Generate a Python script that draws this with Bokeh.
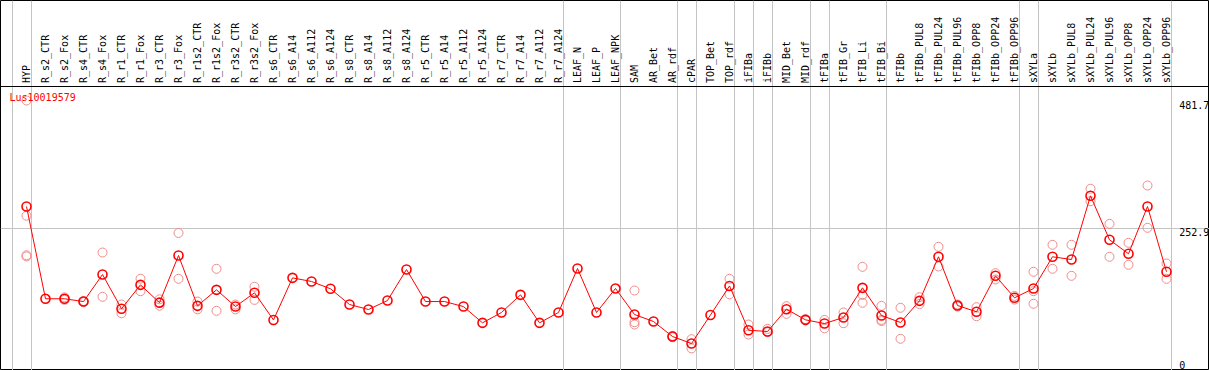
import math
from bokeh.plotting import figure
from bokeh.models import Range1d, Span, Grid, FixedTicker, Label
from bokeh.core.properties import value
from bokeh.embed import file_html
from bokeh.resources import INLINE

gene = "Lus10019579"

categories = [
    "HYP", "R_s2_CTR", "R_s2_Fox", "R_s4_CTR", "R_s4_Fox", "R_r1_CTR", "R_r1_Fox",
    "R_r3_CTR", "R_r3_Fox", "R_r1s2_CTR", "R_r1s2_Fox", "R_r3s2_CTR", "R_r3s2_Fox",
    "R_s6_CTR", "R_s6_A14", "R_s6_A112", "R_s6_A124", "R_s8_CTR", "R_s8_A14",
    "R_s8_A112", "R_s8_A124", "R_r5_CTR", "R_r5_A14", "R_r5_A112", "R_r5_A124",
    "R_r7_CTR", "R_r7_A14", "R_r7_A112", "R_r7_A124", "LEAF_N", "LEAF_P", "LEAF_NPK",
    "SAM", "AR_Bet", "AR_rdf", "cPAR", "TOP_Bet", "TOP_rdf", "iFIBa", "iFIBb",
    "MID_Bet", "MID_rdf", "tFIBa", "tFIB_Gr", "tFIB_Li", "tFIB_Bi", "tFIBb",
    "tFIBb_PUL8", "tFIBb_PUL24", "tFIBb_PUL96", "tFIBb_OPP8", "tFIBb_OPP24",
    "tFIBb_OPP96", "sXYLa", "sXYLb", "sXYLb_PUL8", "sXYLb_PUL24", "sXYLb_PUL96",
    "sXYLb_OPP8", "sXYLb_OPP24", "sXYLb_OPP96",
]

means = [
    291.5, 126, 126, 121, 169.5, 108, 151, 119, 203.6, 113.3, 142, 112, 136.7,
    88, 163.5, 157, 143.9, 115.7, 106.7, 122.9, 178.5, 121, 121, 112, 82.8,
    101.4, 133, 82.8, 101.4, 180.3, 101.4, 144.4,
    97.8, 85.2, 58.3, 45.7, 97, 149, 69.6, 67.3, 107.3, 88.2, 81.6, 92.4, 145.6,
    96, 83.4, 122.3, 201.3, 113.9, 102.6, 167.2, 127.7, 144.4, 201.3, 196.4,
    310.7, 231.8, 206.7, 291.5, 174.4,
]

replicates = [
    [481.7, 275, 204, 202], [], [128.5, 124], [122, 120], [209, 129.5],
    [115.7, 100], [162, 139.6], [125, 113.5], [244, 161.8], [121, 107],
    [179.7, 104.4], [115.7, 107], [147.5, 124],
    [], [], [], [], [], [], [], [], [], [], [], [], [], [], [], [], [], [], [],
    [140.8, 84, 79.8], [], [59.5, 57], [53.5, 37], [], [161.8, 134],
    [79.8, 61.9], [72, 66], [112.7, 99], [89.5, 87], [88, 73], [101.4, 82.2],
    [183.3, 133, 118.8], [113.3, 88, 86], [109.8, 54.2], [128.8, 116.5],
    [219.2, 183.9], [115.7, 112], [110.9, 94.7], [171.9, 160.6], [131, 124.5],
    [174.4, 139.6, 117], [222.8, 179.8], [222.8, 167.2], [323.4, 301],
    [260.4, 201.3], [226.4, 186.9], [329.2, 253.3], [189.3, 161.8],
]

# index of the last category of each tissue group (-1 = before the first)
group_last = [-1, 0, 28, 31, 34, 35, 37, 38, 39, 41, 42, 45, 52, 53, 60]

tick_values = [481.7, 252.9, 0.0]
tick_labels = ["481.7", "252.9", "0"]

# ---- layout ----
W, H = 1209, 370
STEP = 19.0      # px per category
X0 = 26.0        # px of first category from the left edge
S = 0.5574       # px per unit of value
Y0 = 368.5       # px (from top) of value 0
HEADER_VAL = 506.8

x_range = Range1d(-X0 / STEP, (W - X0) / STEP)
y_range = Range1d(-(H - Y0) / S, Y0 / S)

p = figure(width=W, height=H, x_range=x_range, y_range=y_range,
           x_axis_type=None, y_axis_type=None,
           output_backend="svg", toolbar_location=None, min_border=0,
           background_fill_color="white", border_fill_color="white",
           outline_line_color="black", outline_line_width=1)

sep = [g + 0.24 for g in group_last]
p.add_layout(Grid(dimension=0, ticker=FixedTicker(ticks=sep),
                  grid_line_color="#c4c4c4", grid_line_width=1))
p.add_layout(Grid(dimension=1, ticker=FixedTicker(ticks=[tick_values[1]]),
                  grid_line_color="#c4c4c4", grid_line_width=1))

p.add_layout(Span(location=HEADER_VAL, dimension="width",
                  line_color="black", line_width=1))

idx = list(range(len(categories)))
mono = value("DejaVu Sans Mono")

# category labels in header
p.text(x=idx, y=[HEADER_VAL + 3.5 / S] * len(idx), text=categories,
       angle=math.pi / 2, text_align="left", text_baseline="middle",
       text_font=mono, text_font_size="10px", text_color="black")

# value labels at right
tick_x = x_range.end - 30.3 / STEP
p.text(x=[tick_x] * 2, y=tick_values[:2], text=tick_labels[:2],
       text_align="left", text_baseline="top",
       text_font=mono, text_font_size="10px", text_color="black")
p.text(x=[tick_x], y=tick_values[2:], text=tick_labels[2:],
       text_align="left", text_baseline="bottom",
       text_font=mono, text_font_size="10px", text_color="black")

# data
rx = [i for i, r in enumerate(replicates) for _ in r]
ry = [v for r in replicates for v in r]
p.scatter(rx, ry, marker="circle", size=9, fill_color=None,
          line_color="#f08c8c", line_width=1)
p.line(idx, means, line_color="red", line_width=1)
p.scatter(idx, means, marker="circle", size=9, fill_color=None,
          line_color="red", line_width=1.6)

p.add_layout(Label(x=9, x_units="screen", y=487, text=gene,
                   text_baseline="middle", text_align="left",
                   text_color="red", text_font="DejaVu Sans Mono",
                   text_font_size="10px"))

open("out.html", "w").write(file_html(p, INLINE))
